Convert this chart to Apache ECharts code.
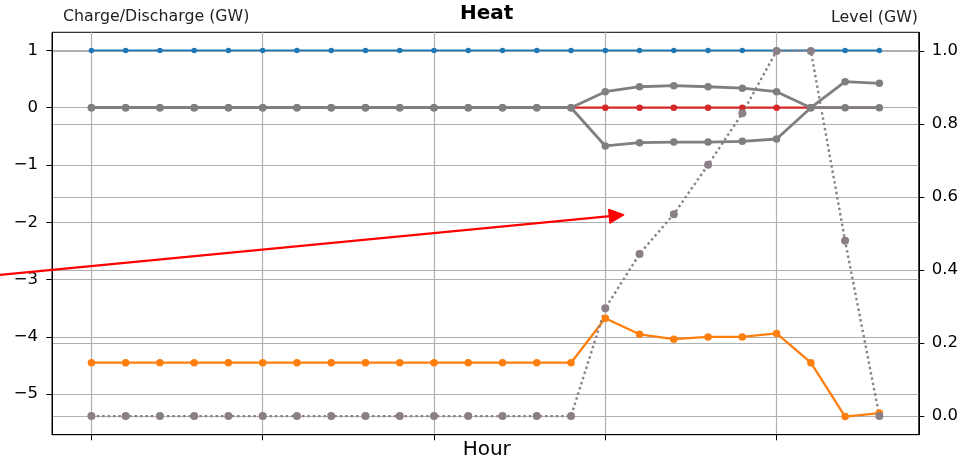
<!DOCTYPE html>
<html><head><meta charset="utf-8">
<script src="https://cdn.jsdelivr.net/npm/echarts@6/dist/echarts.min.js"></script>
<style>html,body{margin:0;padding:0;background:#fff}#c{width:961px;height:460px}</style>
</head><body><div id="c"></div>
<script>
// ---- data ----
const hours = [0,1,2,3,4,5,6,7,8,9,10,11,12,13,14,15,16,17,18,19,20,21,22,23];
const blueVals = [1,1,1,1,1,1,1,1,1,1,1,1,1,1,1,1,1,1,1,1,1,1,1,1];
const orangeVals = [-4.45,-4.45,-4.45,-4.45,-4.45,-4.45,-4.45,-4.45,-4.45,-4.45,-4.45,-4.45,-4.45,-4.45,-4.45,-3.675,-3.955,-4.04,-4.0,-4.0,-3.94,-4.45,-5.39,-5.33];
const redVals = [0,0,0,0,0,0,0,0,0,0,0,0,0,0,0,0,0,0,0,0,0,0,0,0];
const grayUpVals = [0,0,0,0,0,0,0,0,0,0,0,0,0,0,0,0.28,0.366,0.384,0.366,0.34,0.28,0,0.454,0.426];
const grayDownVals = [0,0,0,0,0,0,0,0,0,0,0,0,0,0,0,-0.668,-0.61,-0.6,-0.6,-0.586,-0.546,0,0,0];
const levelVals = [0,0,0,0,0,0,0,0,0,0,0,0,0,0,0,0.295,0.444,0.553,0.688,0.829,1.0,1.0,0.48,0.0];
const xTicks = [0,5,10,15,20];
const leftTicks = [-5,-4,-3,-2,-1,0,1];
const rightTicks = [0,0.2,0.4,0.6,0.8,1.0];
const arrowFrom = [-2.68, -2.92];
const arrowTo = [15.55, -1.87];

const FONT = 'DejaVu Sans';
const pairs = vals => hours.map((h,i)=>[h, vals[i]]);
const gridColor = '#b0b0b0';

const chart = echarts.init(document.getElementById('c'), null, {renderer:'canvas'});

function lineSeries(name, vals, color, width, size, yIdx, dotted) {
  return {
    name, type:'line', data: pairs(vals), yAxisIndex: yIdx||0,
    symbol:'circle', symbolSize:size, showAllSymbol:true, clip:false,
    lineStyle:{color, width, type: dotted ? [2.4, 3.0] : 'solid'},
    itemStyle:{color, borderWidth:0},
    emphasis:{disabled:true}, animation:false
  };
}

const option = {
  animation:false,
  grid:{left:52, right:39.5, top:32.3, bottom:25.3, show:true, borderColor:'#000', borderWidth:1, backgroundColor:'transparent'},
  xAxis:{
    type:'value', min:-1.15, max:24.15,
    axisLine:{show:true, onZero:false, lineStyle:{color:'#000', width:1}},
    axisTick:{show:true, customValues:xTicks, length:5.6, lineStyle:{color:'#000', width:1}},
    axisLabel:{show:false},
    splitLine:{show:true, lineStyle:{color:gridColor, width:1.2}}
  },
  yAxis:[{
    type:'value', min:-5.707, max:1.316, position:'left',
    axisLine:{show:true, onZero:false, lineStyle:{color:'#000', width:1}},
    axisTick:{show:true, customValues:leftTicks, length:5.6, lineStyle:{color:'#000', width:1}},
    axisLabel:{show:true, customValues:leftTicks, margin:14, color:'#000', fontSize:16.5, fontFamily:FONT,
      formatter: v => String(Math.round(v)).replace('-', '\u2212')},
    splitLine:{show:true, lineStyle:{color:gridColor, width:1.2}}
  },{
    type:'value', min:-0.051, max:1.051, position:'right',
    axisLine:{show:true, onZero:false, lineStyle:{color:'#000', width:1}},
    axisTick:{show:true, customValues:rightTicks, length:5.6, lineStyle:{color:'#000', width:1}},
    axisLabel:{show:true, customValues:rightTicks, margin:13, color:'#000', fontSize:16.5, fontFamily:FONT,
      formatter: v => v.toFixed(1)},
    splitLine:{show:true, lineStyle:{color:gridColor, width:1.2}}
  }],
  series:[
    lineSeries('blue', blueVals, '#1f77b4', 1.8, 5.5),
    lineSeries('orange', orangeVals, '#ff7f0e', 2.3, 7.5),
    lineSeries('red', redVals, '#d62728', 2.2, 6.5),
    lineSeries('grayDown', grayDownVals, '#7f7f7f', 2.8, 7.5),
    lineSeries('grayUp', grayUpVals, '#7f7f7f', 2.8, 7.5),
    lineSeries('level', levelVals, '#8a7f87', 2.4, 8, 1, true)
  ],
  graphic:[
    {id:'tTitle', type:'text', x:486.75, y:14, style:{text:'Heat', font:'bold 20px "DejaVu Sans"', fill:'#000', align:'center', verticalAlign:'middle'}},
    {id:'tLeft', type:'text', x:63, y:16.7, style:{text:'Charge/Discharge (GW)', font:'15.8px "DejaVu Sans"', fill:'#222', align:'left', verticalAlign:'middle'}},
    {id:'tRight', type:'text', x:918, y:17.5, style:{text:'Level (GW)', font:'15.8px "DejaVu Sans"', fill:'#222', align:'right', verticalAlign:'middle'}},
    {id:'tHour', type:'text', x:486.75, y:449.7, style:{text:'Hour', font:'20px "DejaVu Sans"', fill:'#000', align:'center', verticalAlign:'middle'}}
  ]
};
chart.setOption(option);

// arrow annotation placed through the axis scales
const p0 = chart.convertToPixel({xAxisIndex:0, yAxisIndex:0}, arrowFrom);
const p1 = chart.convertToPixel({xAxisIndex:0, yAxisIndex:0}, arrowTo);
const dx = p1[0]-p0[0], dy = p1[1]-p0[1];
const L = Math.sqrt(dx*dx+dy*dy), ux = dx/L, uy = dy/L;
const headLen = 15, headHalf = 7.2;
const bx = p1[0]-ux*headLen, by = p1[1]-uy*headLen;
chart.setOption({graphic:[
  {id:'arrowLine', type:'line', shape:{x1:p0[0], y1:p0[1], x2:bx+ux*1, y2:by+uy*1}, style:{stroke:'#ff0000', lineWidth:2.2}, z:100},
  {id:'arrowHead', type:'polygon', shape:{points:[[p1[0],p1[1]],[bx-uy*headHalf, by+ux*headHalf],[bx+uy*headHalf, by-ux*headHalf]]}, style:{fill:'#ff0000', stroke:'#ff0000', lineWidth:1}, z:100}
]});
</script>
</body></html>
